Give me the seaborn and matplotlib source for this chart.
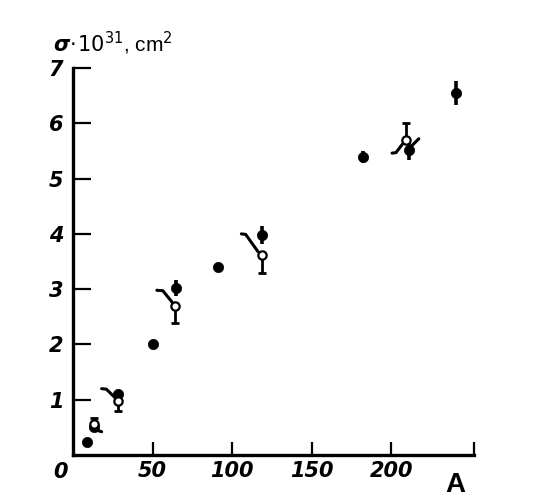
import numpy as np
import pandas as pd
import matplotlib
matplotlib.use("Agg")
import matplotlib.pyplot as plt
import seaborn as sns

# filled points (with symmetric vertical error bars)
filled_A = [9, 13, 28, 50, 65, 91, 119, 182, 211, 241]
filled_sigma = [0.23, 0.50, 1.10, 2.0, 3.02, 3.40, 3.98, 5.39, 5.52, 6.55]
filled_err = [0.0, 0.0, 0.08, 0.05, 0.14, 0.08, 0.16, 0.10, 0.18, 0.22]

# open points (one-sided error bars)
open_A = [13, 28, 64, 119, 209]
open_sigma = [0.56, 0.97, 2.69, 3.62, 5.70]
open_err_low = [0.0, 0.17, 0.30, 0.33, 0.0]
open_err_high = [0.11, 0.0, 0.0, 0.0, 0.30]

# short slanted strokes next to the open points
strokes_A = [[15, 18], [18, 21, 27], [52.7, 56.5, 62.7], [105.8, 108.5, 116.2],
             [200.5, 203, 208.3], [211.4, 217.3]]
strokes_sigma = [[0.45, 0.42], [1.20, 1.19, 1.02], [2.98, 2.97, 2.75], [4.0, 3.99, 3.68],
                 [5.46, 5.47, 5.67], [5.55, 5.72]]

x_ticks = [50, 100, 150, 200]
y_ticks = [1, 2, 3, 4, 5, 6, 7]

sns.set_style("ticks")
plt.rcParams['font.family'] = ['Liberation Sans', 'DejaVu Sans']
plt.rcParams['axes.edgecolor'] = 'black'
plt.rcParams['xtick.color'] = 'black'
plt.rcParams['ytick.color'] = 'black'
plt.rcParams['text.color'] = 'black'
tick_font = dict(family=['Liberation Sans Narrow', 'DejaVu Sans'], style='italic',
                 weight='bold', size=15, color='black')

fig = plt.figure(figsize=(5.36, 5.0), dpi=100)
ax = fig.add_axes([73 / 536, 45 / 500, (474 - 73) / 536, (455 - 68) / 500])

for xs, ys in zip(strokes_A, strokes_sigma):
    ax.plot(xs, ys, color='black', lw=2.2, solid_capstyle='round',
            solid_joinstyle='miter', zorder=2)

ax.errorbar(filled_A, filled_sigma, yerr=filled_err, fmt='none', ecolor='black',
            elinewidth=2.6, capsize=0, zorder=2)
df_f = pd.DataFrame({'A': filled_A, 'sigma': filled_sigma})
sns.scatterplot(data=df_f, x='A', y='sigma', marker='o', s=55, color='black',
                edgecolor='black', linewidth=0.5, ax=ax, zorder=4)

ax.errorbar(open_A, open_sigma, yerr=[open_err_low, open_err_high], fmt='none',
            ecolor='black', elinewidth=2.0, capsize=3, capthick=2, zorder=3)
df_o = pd.DataFrame({'A': open_A, 'sigma': open_sigma})
sns.scatterplot(data=df_o, x='A', y='sigma', marker='o', s=36, color='white',
                edgecolor='black', linewidth=1.6, ax=ax, zorder=5)

ax.set_xlim(0, 252)
ax.set_ylim(0, 7)
ax.set_xticks(x_ticks + [252])
ax.set_xticklabels([str(t) for t in x_ticks] + [''], fontdict=tick_font)
ax.set_yticks(y_ticks)
ax.set_yticklabels([str(t) for t in y_ticks], fontdict=tick_font)
ax.set_xlabel('')
ax.set_ylabel('')

sns.despine(ax=ax)
for side in ['left', 'bottom']:
    ax.spines[side].set_linewidth(2.4)
    ax.spines[side].set_color('black')
ax.tick_params(axis='y', direction='in', length=13, width=1.6, pad=7, colors='black')
ax.tick_params(axis='x', direction='in', length=9.5, width=1.6, pad=4, colors='black')

fig.text(60 / 536, 1 - 472 / 500, '0', ha='center', va='center', fontdict=tick_font)
fig.text(455 / 536, 1 - 485 / 500, 'A', ha='center', va='center', fontsize=20,
         weight='bold')
fig.text(53 / 536, 1 - 52 / 500,
         r'$\boldsymbol{\sigma}\!\cdot\!\mathit{10}^{\mathit{31}}$, cm$^2$',
         ha='left', va='baseline', fontsize=15)

fig.savefig('out.png', dpi=100, facecolor='white')
